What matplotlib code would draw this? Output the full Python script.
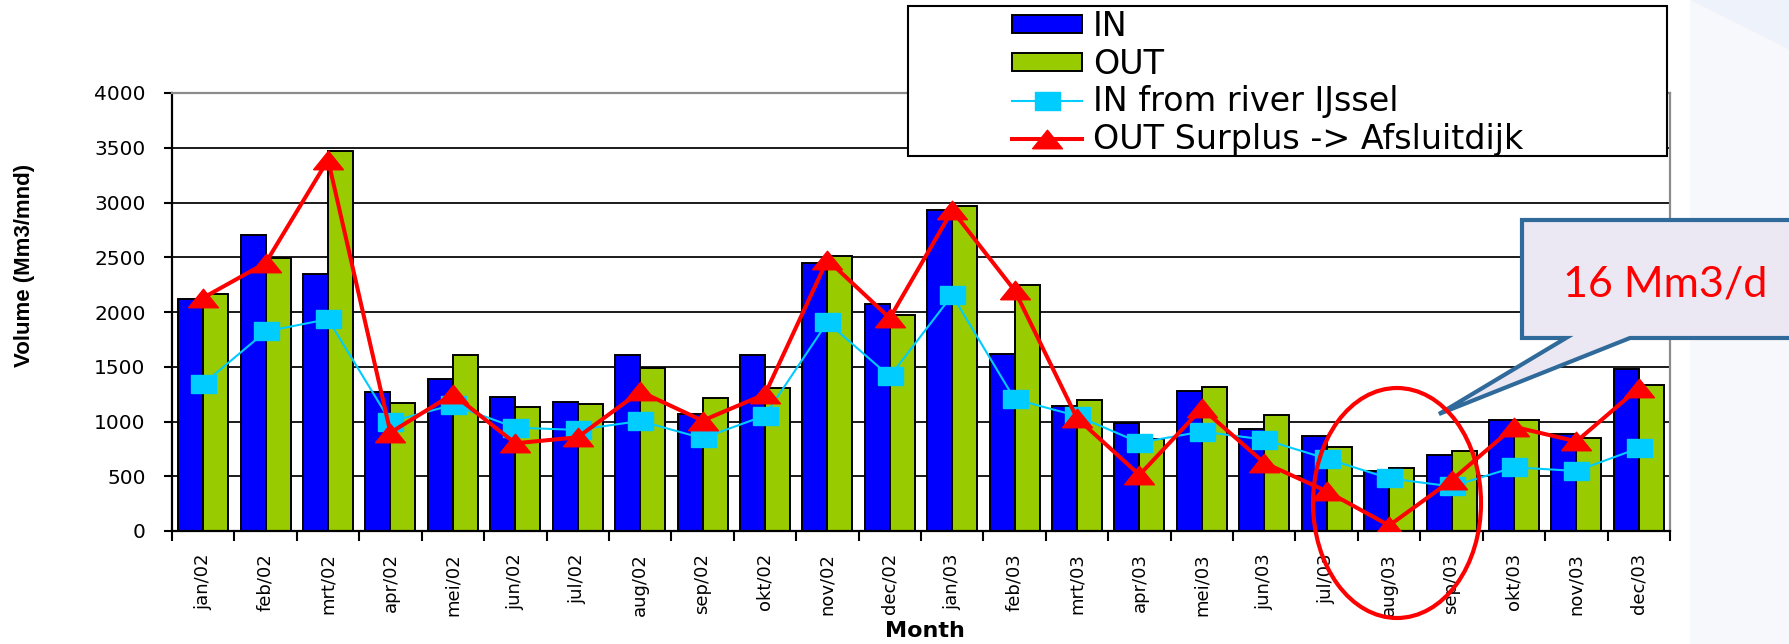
import numpy as np
import matplotlib.pyplot as plt
from matplotlib.patches import Rectangle, Polygon, Ellipse

months = ["jan/02", "feb/02", "mrt/02", "apr/02", "mei/02", "jun/02", "jul/02", "aug/02",
          "sep/02", "okt/02", "nov/02", "dec/02", "jan/03", "feb/03", "mrt/03", "apr/03",
          "mei/03", "jun/03", "jul/03", "aug/03", "sep/03", "okt/03", "nov/03", "dec/03"]
vol_in = [2120, 2705, 2349, 1265, 1392, 1228, 1182, 1603, 1066, 1603, 2447, 2072,
          2928, 1618, 1146, 984, 1280, 932, 868, 548, 690, 1013, 885, 1481]
vol_out = [2166, 2492, 3467, 1167, 1603, 1133, 1164, 1487, 1213, 1310, 2508, 1974,
           2965, 2249, 1197, 838, 1316, 1060, 767, 575, 734, 1013, 851, 1333]
in_ijssel = [1343, 1822, 1935, 999, 1152, 944, 923, 1005, 847, 1054, 1907, 1411,
             2154, 1204, 1051, 807, 908, 835, 660, 481, 407, 582, 548, 757]
out_surplus = [2130, 2448, 3390, 899, 1250, 801, 856, 1274, 1008, 1249, 2477, 1944,
               2928, 2197, 1030, 512, 1120, 622, 363, 50, 464, 952, 818, 1306]
labels = ["IN", "OUT", "IN from river IJssel", "OUT Surplus -> Afsluitdijk"]

W, H = 1790, 644

def fx(px):
    return px / W

def fy(py):
    return 1 - py / H

fig = plt.figure(figsize=(W / 100, H / 100), dpi=100)

# light slide background on the right
fig.add_artist(Rectangle((fx(1690), 0), fx(W - 1690), 1, transform=fig.transFigure,
                         facecolor="#F6F8FC", edgecolor="none", zorder=0))
fig.add_artist(Polygon([(fx(1690), 1), (1, 1), (1, fy(50))], closed=True,
                       transform=fig.transFigure, facecolor="#EEF3FB", edgecolor="none", zorder=0))

ax = fig.add_axes([fx(172), fy(531), fx(1670 - 172), (531 - 93) / H])
x = np.arange(len(months))

b1 = ax.bar(x - 0.2, vol_in, 0.4, color="#0000FF", edgecolor="black", linewidth=1.4, zorder=2)
b2 = ax.bar(x + 0.2, vol_out, 0.4, color="#99CC00", edgecolor="black", linewidth=1.4, zorder=2)

sq = [(-1, -0.72), (1, -0.72), (1, 0.72), (-1, 0.72), (-1, -0.72)]
tri = [(-1, -0.62), (1, -0.62), (0, 0.62), (-1, -0.62)]
l1, = ax.plot(x, in_ijssel, color="#00CCFF", lw=1.5, marker=sq, markersize=18,
              markerfacecolor="#00CCFF", markeredgecolor="#00CCFF", zorder=3)
l2, = ax.plot(x, out_surplus, color="#FF0000", lw=2.9, marker=tri, markersize=21.5,
              markerfacecolor="#FF0000", markeredgecolor="#FF0000", zorder=4)

ax.set_xlim(-0.5, 23.5)
ax.set_ylim(0, 4000)
ax.set_yticks(np.arange(0, 4001, 500))
ax.yaxis.grid(True, color="#1a1a1a", lw=1.4)
ax.set_axisbelow(True)

ax.set_xticks(x)
ax.set_xticklabels(months)
ax.set_xticks(np.arange(-0.5, 24, 1), minor=True)
ax.tick_params(axis="x", which="major", length=0, pad=16, labelrotation=90, labelsize=13)
ax.tick_params(axis="x", which="minor", length=7, width=1.5, direction="out")
ax.tick_params(axis="y", length=6, width=1.5, direction="out", pad=13, labelsize=14.5)

for s in ["left", "bottom"]:
    ax.spines[s].set_color("black")
    ax.spines[s].set_linewidth(1.6)
for s in ["top", "right"]:
    ax.spines[s].set_color("#8c8c8c")
    ax.spines[s].set_linewidth(1.6)

fig.text(fx(25), fy(265), "Volume (Mm3/mnd)", rotation=90, ha="center", va="center",
         fontsize=16, fontweight="bold", family="Liberation Sans")
fig.text(fx(925), fy(637), "Month", ha="center", va="baseline", fontsize=16, fontweight="bold")

# legend with its own frame
fig.add_artist(Rectangle((fx(908), fy(156)), fx(1667 - 908), 150 / H, transform=fig.transFigure,
                         facecolor="white", edgecolor="black", lw=1.5, zorder=4))
leg = fig.legend([b1, b2, l1, l2], labels, loc="upper left", bbox_to_anchor=(fx(1012), fy(10)),
                 frameon=False, fontsize=24, borderpad=0, borderaxespad=0, labelspacing=0.14,
                 handlelength=2.1, handleheight=0.45, handletextpad=0.33, numpoints=1)
leg.set_zorder(5)

# callout
callout = [(1522, 220), (1800, 220), (1800, 338), (1630, 338), (1439, 414), (1566, 338), (1522, 338)]
fig.add_artist(Polygon([(fx(a), fy(b)) for a, b in callout], closed=True, transform=fig.transFigure,
                       facecolor="#EBE8F4", edgecolor="#2F6A9A", lw=3, zorder=6))
fig.text(fx(1665), fy(297), "16 Mm3/d", color="#FF0000", fontsize=31, family="Lato",
         ha="center", va="baseline", zorder=7)
fig.add_artist(Ellipse((fx(1397), fy(503)), fx(168), 230 / H, transform=fig.transFigure,
                       facecolor="none", edgecolor="#FF0000", lw=3, zorder=6))

fig.savefig("out.png", dpi=100)
